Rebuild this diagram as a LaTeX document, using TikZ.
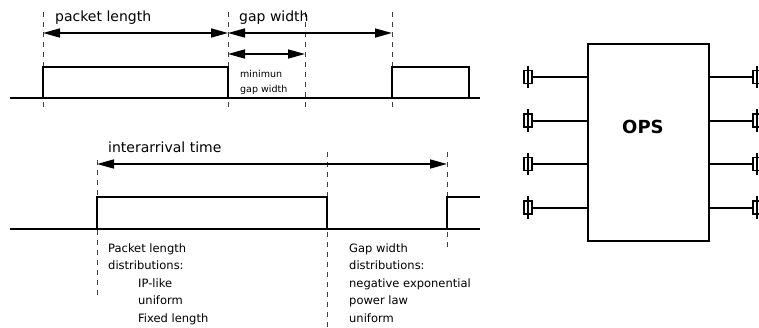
\documentclass[tikz,border=0pt]{standalone}
\usepackage{fontspec}
\setmainfont{DejaVu Sans}
\usetikzlibrary{arrows.meta}
\begin{document}
\begin{tikzpicture}[x=1pt,y=-1pt,
  signal/.style={line width=2pt,line join=miter},
  guide/.style={line width=0.9pt,draw=black!75,dash pattern=on 5pt off 5pt},
  span/.style={line width=1.6pt,{Triangle[length=17pt,width=9pt]}-{Triangle[length=17pt,width=9pt]}},
  lbl/.style={anchor=base west,inner sep=0pt,font=\fontsize{14}{16}\selectfont},
  small/.style={anchor=base west,inner sep=0pt,font=\fontsize{9.5}{15}\selectfont,align=left},
  dist/.style={anchor=base west,inner sep=0pt,font=\fontsize{11.5}{17.5}\selectfont,align=left},
  port/.style={draw,line width=1.6pt,minimum width=8pt,minimum height=13pt,inner sep=0pt},
  wire/.style={line width=2pt}]
\useasboundingbox (0,0) rectangle (759,327);

% ---- top timing diagram ----
\foreach \x in {43,228,305,392} \draw[guide] (\x,12) -- (\x,107);
\draw[signal] (10,98) -- (480,98);
\draw[signal] (43,98) -- (43,67) -- (228,67) -- (228,98);
\draw[signal] (392,98) -- (392,67) -- (469,67) -- (469,98);
\coordinate (pl1) at (43,33);
\coordinate (pl2) at (228,33);
\coordinate (gw2) at (392,33);
\coordinate (mg1) at (228,54);
\coordinate (mg2) at (305,54);
\draw[span] (pl1) -- (pl2);
\draw[span] (pl2) -- (gw2);
\draw[span] (mg1) -- (mg2);
\node[lbl] (tpl) at (55,21) {packet length};
\node[lbl] (tgw) at (239,21) {gap width};
\node[small] (tmg) at (240,92) {minimun\\gap width};

% ---- bottom timing diagram ----
\draw[guide] (97,160) -- (97,295);
\draw[guide] (327,152) -- (327,327);
\draw[guide] (447,152) -- (447,250);
\draw[signal] (10,229) -- (480,229);
\draw[signal] (97,229) -- (97,197) -- (327,197) -- (327,229);
\draw[signal] (447,229) -- (447,197) -- (480,197);
\coordinate (ia1) at (97,164);
\coordinate (ia2) at (447,164);
\draw[span] (ia1) -- (ia2);
\node[lbl] (tia) at (108,152) {interarrival time};
\node[dist] (tpd) at (108,322) {Packet length\\distributions:\\\hspace{30pt}IP-like\\\hspace{30pt}uniform\\\hspace{30pt}Fixed length};
\node[dist] (tgd) at (349,322) {Gap width\\distributions:\\negative exponential\\power law\\uniform};

% ---- OPS ----
\node[draw,line width=1.8pt,minimum width=121pt,minimum height=197pt,inner sep=0pt] (ops) at (648.5,142.5) {};
\node[anchor=base west,inner sep=0pt,font=\fontsize{18}{20}\selectfont\bfseries] (opst) at (622,133) {OPS};
\foreach \i/\y in {1/77,2/120.5,3/164,4/207.5} {
  \node[port] (L\i) at (528,\y) {};
  \draw[wire] ([yshift=4pt]L\i.north) -- ([yshift=-4pt]L\i.south);
  \draw[wire] (L\i.east) -- (ops.west |- L\i);
  \node[port] (R\i) at (757,\y) {};
  \draw[wire] ([yshift=4pt]R\i.north) -- ([yshift=-4pt]R\i.south);
  \draw[wire] (ops.east |- R\i) -- (R\i.west);
}
\end{tikzpicture}
\end{document}
